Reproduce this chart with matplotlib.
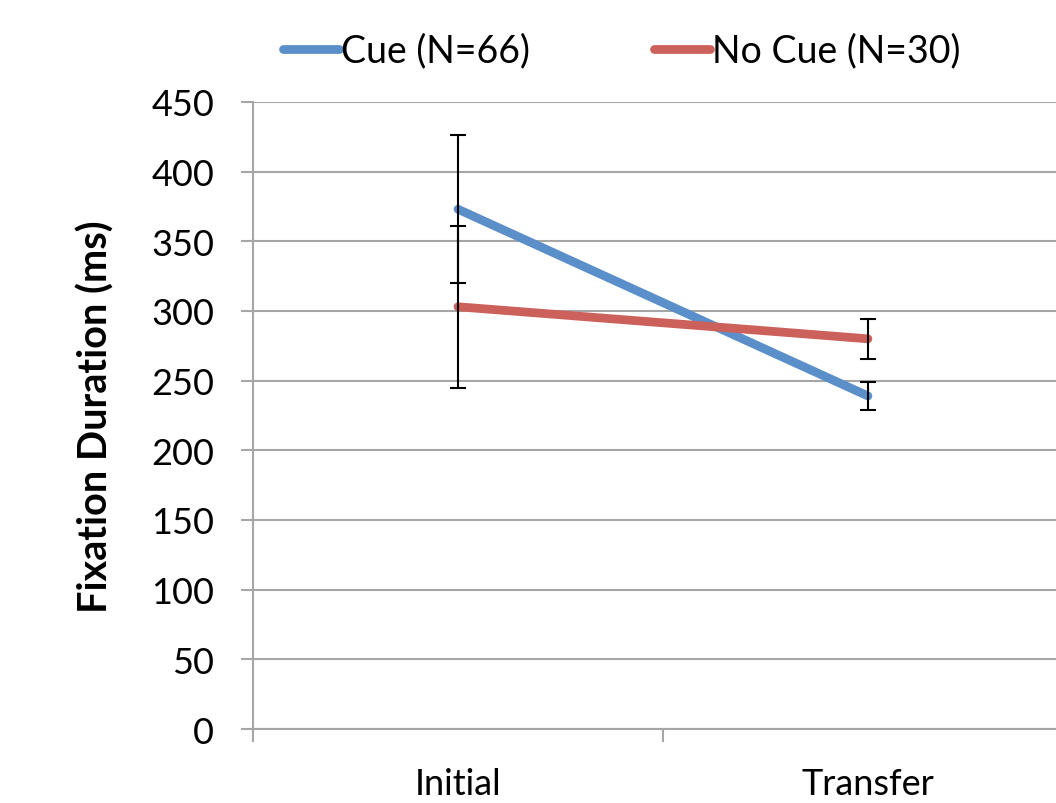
import matplotlib.pyplot as plt

# values
phases = ['Initial', 'Transfer']
cue_mean = [373, 239]
cue_err = [53, 10]
nocue_mean = [303, 280]
nocue_err = [58, 14.5]
yticks = list(range(0, 451, 50))

plt.rcParams['font.family'] = ['Lato', 'DejaVu Sans']

fig = plt.figure(figsize=(10.56, 8.04), dpi=100)
ax = fig.add_axes([0.2396, 0.092, 0.7764, 0.78])

xpos = [0.5, 1.5]
grid_col = '#a6a6a6'

ax.plot(xpos, cue_mean, color='#5b8fca', lw=6.3, solid_capstyle='round',
        label='Cue (N=66)', zorder=3)
ax.plot(xpos, nocue_mean, color='#cc605a', lw=6.3, solid_capstyle='round',
        label='No Cue (N=30)', zorder=3)
ax.errorbar(xpos, cue_mean, yerr=cue_err, fmt='none', ecolor='black',
            elinewidth=1.5, capsize=6, capthick=1.5, zorder=4)
ax.errorbar(xpos, nocue_mean, yerr=nocue_err, fmt='none', ecolor='black',
            elinewidth=1.5, capsize=6, capthick=1.5, zorder=4)

ax.set_xlim(0, 2)
ax.set_ylim(0, 450)
ax.set_yticks(yticks)
ax.yaxis.grid(True, color=grid_col, lw=1.5)
ax.set_axisbelow(True)

ax.set_xticks(xpos)
ax.set_xticklabels(phases)
ax.set_xticks([0, 1, 2], minor=True)
ax.tick_params(axis='x', which='major', length=0, pad=27, labelsize=26)
ax.tick_params(axis='x', which='minor', length=9, width=1.5, color=grid_col,
               direction='out')
ax.tick_params(axis='y', length=9, width=1.5, color=grid_col, labelsize=26,
               pad=19)

for side in ['top', 'right']:
    ax.spines[side].set_visible(False)
for side in ['left', 'bottom']:
    ax.spines[side].set_color(grid_col)
    ax.spines[side].set_linewidth(1.5)

ax.set_ylabel('Fixation Duration (ms)', fontsize=28.5, fontweight='bold',
              labelpad=26)

fig.legend(loc='upper center', bbox_to_anchor=(0.589, 1.0), ncol=2,
           frameon=False, fontsize=27, handlelength=1.5, handletextpad=0.05,
           columnspacing=3.3)

fig.savefig('out.png', dpi=100)
